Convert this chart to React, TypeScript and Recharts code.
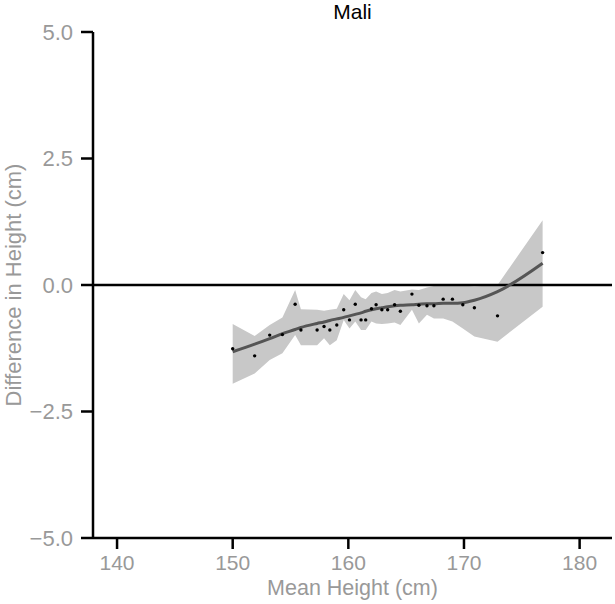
import React from 'react';
import {
  ComposedChart,
  Area,
  Line,
  Scatter,
  XAxis,
  YAxis,
  ReferenceLine,
} from 'recharts';

const heights = [150.0, 151.9, 153.2, 154.3, 155.4, 155.9, 157.3, 157.9, 158.4, 159.0, 159.6, 160.1, 160.6, 161.1, 161.5, 162.0, 162.4, 162.9, 163.4, 164.0, 164.5, 165.5, 166.1, 166.8, 167.4, 168.2, 169.0, 169.9, 170.9, 172.9, 176.8];
const diffs = [-1.26, -1.40, -0.99, -0.98, -0.38, -0.89, -0.89, -0.82, -0.89, -0.79, -0.49, -0.69, -0.38, -0.69, -0.69, -0.47, -0.39, -0.49, -0.49, -0.39, -0.52, -0.18, -0.40, -0.41, -0.41, -0.28, -0.28, -0.39, -0.45, -0.61, 0.64];
const fitted = [-1.32, -1.17, -1.06, -0.96, -0.88, -0.84, -0.76, -0.73, -0.70, -0.67, -0.64, -0.61, -0.58, -0.55, -0.52, -0.49, -0.47, -0.45, -0.43, -0.41, -0.40, -0.39, -0.38, -0.37, -0.37, -0.36, -0.36, -0.35, -0.30, -0.13, 0.43];
const upper = [-0.77, -1.01, -0.79, -0.64, -0.10, -0.48, -0.49, -0.51, -0.49, -0.47, -0.18, -0.30, -0.10, -0.24, -0.28, -0.16, -0.13, -0.18, -0.16, -0.10, -0.13, -0.09, -0.10, -0.05, -0.02, -0.01, 0.00, -0.01, -0.03, 0.00, 1.28];
const lower = [-1.95, -1.75, -1.48, -1.35, -0.99, -1.19, -1.19, -1.05, -1.19, -1.09, -0.69, -0.86, -0.72, -0.89, -0.89, -0.72, -0.76, -0.77, -0.76, -0.74, -0.79, -0.49, -0.76, -0.59, -0.66, -0.66, -0.72, -0.86, -1.02, -1.12, -0.43];

const xTicks = [140, 150, 160, 170, 180];
const yTicks = [-5, -2.5, 0, 2.5, 5];

const data = heights.map((h, i) => ({
  x: h,
  y: diffs[i],
  fit: fitted[i],
  band: [lower[i], upper[i]],
}));

const FONT = '"Liberation Sans", Arial, Helvetica, sans-serif';
const GREY = '#999999';

const fmtY = (v: number) => v.toFixed(1).replace('-', '\u2212');

export default function App() {
  return (
    <div style={{ position: 'absolute', left: 0, top: 0, width: 615, height: 604, fontFamily: FONT, background: '#fff' }}>
      <div
        style={{
          position: 'absolute',
          left: 93,
          top: 0,
          width: 519,
          textAlign: 'center',
          fontSize: 21,
          color: '#000',
          fontFamily: FONT,
          lineHeight: 'normal',
        }}
      >
        Mali
      </div>
      <ComposedChart
        width={615}
        height={604}
        data={data}
        margin={{ top: 32, right: 3, bottom: 0, left: 0 }}
        style={{ fontFamily: FONT }}
      >
        <XAxis
          dataKey="x"
          type="number"
          domain={[137.92, 182.8]}
          ticks={xTicks}
          allowDataOverflow
          height={66}
          axisLine={{ stroke: '#000', strokeWidth: 2.5 }}
          tickLine={{ stroke: '#000', strokeWidth: 2.5 }}
          tickSize={11}
          tickMargin={6}
          tick={{ fill: GREY, fontSize: 21, fontFamily: FONT }}
          label={{ value: 'Mean Height (cm)', position: 'insideBottom', offset: 9, fill: GREY, fontSize: 21.5, fontFamily: FONT }}
        />
        <YAxis
          type="number"
          domain={[-5, 5]}
          ticks={yTicks}
          allowDataOverflow
          width={93}
          tickFormatter={fmtY}
          axisLine={{ stroke: '#000', strokeWidth: 2.5 }}
          tickLine={{ stroke: '#000', strokeWidth: 2.5 }}
          tickSize={12}
          tickMargin={8}
          tick={{ fill: GREY, fontSize: 22, fontFamily: FONT }}
          label={{
            value: 'Difference in Height (cm)',
            angle: -90,
            position: 'insideLeft',
            offset: 13,
            fill: GREY,
            fontSize: 22,
            fontFamily: FONT,
            style: { textAnchor: 'middle' },
          }}
        />
        <Area
          dataKey="band"
          type="linear"
          fill="#c8c8c8"
          fillOpacity={1}
          stroke="none"
          isAnimationActive={false}
          activeDot={false}
        />
        <ReferenceLine y={0} stroke="#000" strokeWidth={2.5} />
        <Line
          dataKey="fit"
          type="monotone"
          stroke="#555555"
          strokeWidth={3}
          dot={false}
          activeDot={false}
          isAnimationActive={false}
        />
        <Scatter
          dataKey="y"
          isAnimationActive={false}
          shape={(p: any) => <circle cx={p.cx} cy={p.cy} r={1.7} fill="#000" />}
        />
      </ComposedChart>
    </div>
  );
}
